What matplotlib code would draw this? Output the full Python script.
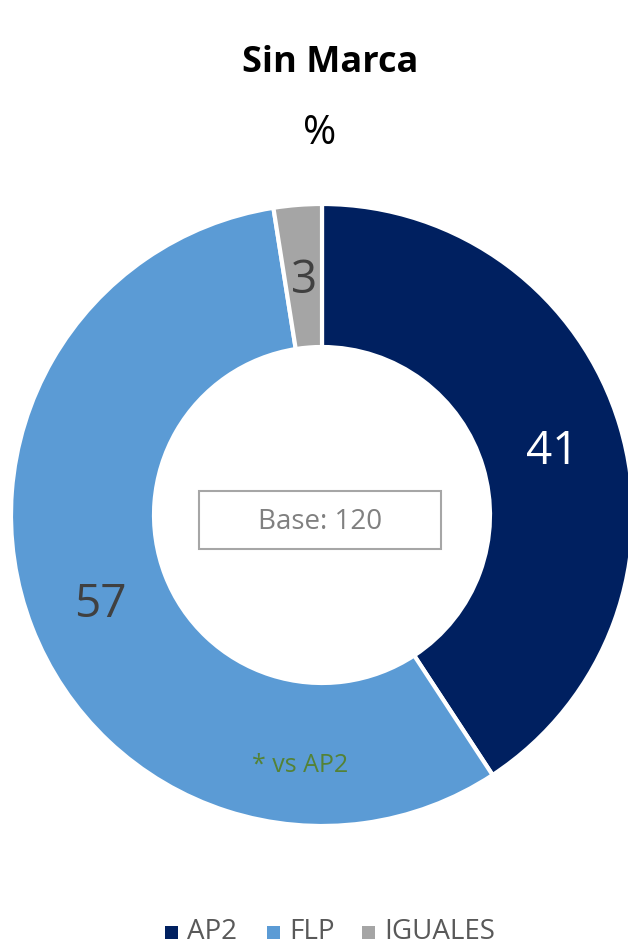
import matplotlib.pyplot as plt
from matplotlib.patches import Rectangle

plt.rcParams['font.family'] = ['Open Sans', 'DejaVu Sans']

# datos (porcentajes; etiquetas redondeadas como en el original)
categorias = ['AP2', 'FLP', 'IGUALES']
valores = [40.8, 56.8, 2.5]
etiquetas = ['41', '57', '3']
colores = ['#002060', '#5B9BD5', '#A5A5A5']
color_etiquetas = ['white', '#404040', '#404040']

W, H = 628, 945
fig = plt.figure(figsize=(W / 100, H / 100), dpi=100)
ax = fig.add_axes([0, 0, 1, 1])

cx, cy = 322, H - 516
R = 311
ancho = 143

ax.pie(valores, colors=colores, startangle=90, counterclock=False,
       center=(cx, cy), radius=R, frame=True,
       wedgeprops=dict(width=ancho, edgecolor='white', linewidth=3))
ax.set_xlim(0, W)
ax.set_ylim(0, H)
ax.set_aspect('equal')
ax.axis('off')

# etiquetas de valores
posiciones = [(552, H - 452), (100, H - 605), (304, H - 281)]
for t, (x, y), c in zip(etiquetas, posiciones, color_etiquetas):
    ax.text(x, y, t, color=c, fontsize=33, ha='center', va='center')

# titulos
ax.text(330, H - 63, 'Sin Marca', fontsize=26, fontweight='bold', ha='center', va='center', color='black')
ax.text(320, H - 134, '%', fontsize=29, ha='center', va='center', color='black')

# caja base
ax.add_patch(Rectangle((199, H - 550), 242, 58, facecolor='white', edgecolor='#A6A6A6', linewidth=1.5))
ax.text(320, H - 522, 'Base: 120', fontsize=20, color='#808080', ha='center', va='center')

ax.text(300, H - 766, '* vs AP2', fontsize=18, color='#548235', ha='center', va='center')

# leyenda
leg_sq = [165, 267, 362]
for x, cat, col in zip(leg_sq, categorias, colores):
    ax.add_patch(Rectangle((x, H - 940), 13, 13, facecolor=col, edgecolor='none'))
    ax.text(x + 22, H - 932, cat, fontsize=20, color='#595959', ha='left', va='center')

fig.savefig('out.png', dpi=100)
